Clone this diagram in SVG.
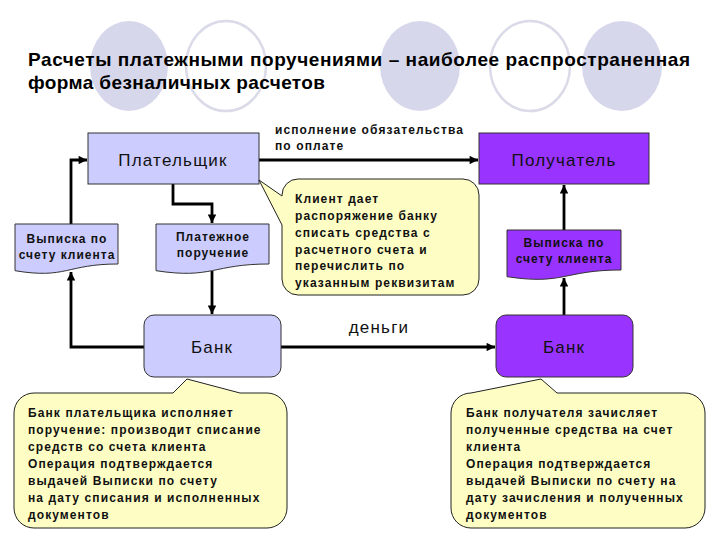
<svg xmlns="http://www.w3.org/2000/svg" width="720" height="540" viewBox="0 0 720 540">
<defs>
<marker id="ah" viewBox="0 0 10 10" refX="10" refY="5" markerWidth="3.2" markerHeight="3" orient="auto" markerUnits="strokeWidth">
<path d="M0,0 L10,5 L0,10 Z" fill="#000"/>
</marker>
<style>
.bgf{fill:#d7d7ec;stroke:none}
.bgo{fill:none;stroke:#dadae8;stroke-width:2.5}
.title{font-family:"Liberation Sans",Arial,sans-serif;font-weight:bold;font-size:19px;fill:#000}
.light{fill:#ccccff;stroke:#333;stroke-width:1}
.purple{fill:#9933ff;stroke:#333;stroke-width:1}
.call{fill:#fefec4;stroke:#222;stroke-width:1}
.big{font-family:"Liberation Sans",Arial,sans-serif;font-size:17px;fill:#111;text-anchor:middle;letter-spacing:1.2px}
.sm{font-family:"Liberation Sans",Arial,sans-serif;font-weight:bold;font-size:12px;fill:#111;letter-spacing:1px}
.smc{text-anchor:middle}
.ct{font-family:"Liberation Sans",Arial,sans-serif;font-weight:bold;font-size:12px;fill:#111;letter-spacing:1.1px}
.edge{fill:none;stroke:#000;stroke-width:2.8;marker-end:url(#ah)}
</style>
</defs>
<rect width="720" height="540" fill="#fff"/>
<g id="background">
<ellipse class="bgf" cx="129" cy="66" rx="39" ry="45"/>
<ellipse class="bgo" cx="226" cy="66" rx="40" ry="45"/>
<ellipse class="bgf" cx="420" cy="66" rx="40" ry="45"/>
<ellipse class="bgo" cx="530" cy="66" rx="40" ry="45"/>
<ellipse class="bgf" cx="622" cy="66" rx="40" ry="45"/>
</g>
<g id="title">
<text class="title" x="28" y="66" textLength="662" lengthAdjust="spacing">Расчеты платежными поручениями – наиболее распространенная</text>
<text class="title" x="28" y="89" textLength="297" lengthAdjust="spacing">форма безналичных расчетов</text>
</g>
<g id="connectors">
<path class="edge" d="M259,160 H478"/>
<path class="edge" d="M173,184 V204 H212 V223"/>
<path class="edge" d="M212,271 V314"/>
<path class="edge" d="M144,347 H71 V272"/>
<path class="edge" d="M71,224 V160 H87"/>
<path class="edge" d="M281,347 H495"/>
<path class="edge" d="M564,315 V278"/>
<path class="edge" d="M564,230 V185"/>
<text class="ct" x="275" y="134">исполнение обязательства</text>
<text class="ct" x="275" y="150">по оплате</text>
<text class="big" x="379" y="333">деньги</text>
</g>
<g id="payer">
<rect class="light" x="88" y="133" width="171" height="51"/>
<text class="big" x="173" y="166">Плательщик</text>
</g>
<g id="recipient">
<rect class="purple" x="479" y="133" width="170" height="51"/>
<text class="big" x="564" y="166">Получатель</text>
</g>
<g id="statement-left">
<path class="light" d="M15,224 H118 V264 C66.5,264 66.5,279.3 15,270.7 Z"/>
<text class="sm smc" x="67" y="243">Выписка по</text>
<text class="sm smc" x="67" y="259">счету клиента</text>
</g>
<g id="payment-order">
<path class="light" d="M156,224 H269 V264 C212.5,264 212.5,279.3 156,270.7 Z"/>
<text class="sm smc" x="213" y="241">Платежное</text>
<text class="sm smc" x="213" y="257">поручение</text>
</g>
<g id="statement-right">
<path class="purple" d="M507,230 H621 V270 C564,270 564,285.3 507,276.7 Z"/>
<text class="sm smc" x="564" y="247">Выписка по</text>
<text class="sm smc" x="564" y="263">счету клиента</text>
</g>
<g id="bank-left">
<rect class="light" x="144" y="315" width="137" height="62" rx="10"/>
<text class="big" x="212" y="353">Банк</text>
</g>
<g id="bank-right">
<rect class="purple" x="496" y="315" width="137" height="62" rx="10"/>
<text class="big" x="564" y="353">Банк</text>
</g>
<g id="callout-client">
<path class="call" d="M298,179 H463 A16,16 0 0 1 479,195 V279 A16,16 0 0 1 463,295 H298 A16,16 0 0 1 282,279 V225 L259,180 L282,196 V195 A16,16 0 0 1 298,179 Z"/>
<text class="ct" x="295" y="203">Клиент дает</text>
<text class="ct" x="295" y="220">распоряжение банку</text>
<text class="ct" x="295" y="237">списать средства с</text>
<text class="ct" x="295" y="254">расчетного счета и</text>
<text class="ct" x="295" y="270">перечислить по</text>
<text class="ct" x="295" y="287">указанным реквизитам</text>
</g>
<g id="callout-bank-left">
<path class="call" d="M34,393 H173 L187,379 L240,393 H267 A20,20 0 0 1 287,413 V508 A20,20 0 0 1 267,528 H34 A20,20 0 0 1 14,508 V413 A20,20 0 0 1 34,393 Z"/>
<text class="ct" x="28" y="417">Банк плательщика исполняет</text>
<text class="ct" x="28" y="434">поручение: производит списание</text>
<text class="ct" x="28" y="451">средств со счета клиента</text>
<text class="ct" x="28" y="468">Операция подтверждается</text>
<text class="ct" x="28" y="485">выдачей Выписки по счету</text>
<text class="ct" x="28" y="502">на дату списания и исполненных</text>
<text class="ct" x="28" y="519">документов</text>
</g>
<g id="callout-bank-right">
<path class="call" d="M471,393 L541,379 L557,393 H685 A20,20 0 0 1 705,413 V508 A20,20 0 0 1 685,528 H471 A20,20 0 0 1 451,508 V413 A20,20 0 0 1 471,393 Z"/>
<text class="ct" x="466" y="417">Банк получателя зачисляет</text>
<text class="ct" x="466" y="434">полученные средства на счет</text>
<text class="ct" x="466" y="451">клиента</text>
<text class="ct" x="466" y="468">Операция подтверждается</text>
<text class="ct" x="466" y="485">выдачей Выписки по счету на</text>
<text class="ct" x="466" y="502">дату зачисления и полученных</text>
<text class="ct" x="466" y="519">документов</text>
</g>
</svg>
